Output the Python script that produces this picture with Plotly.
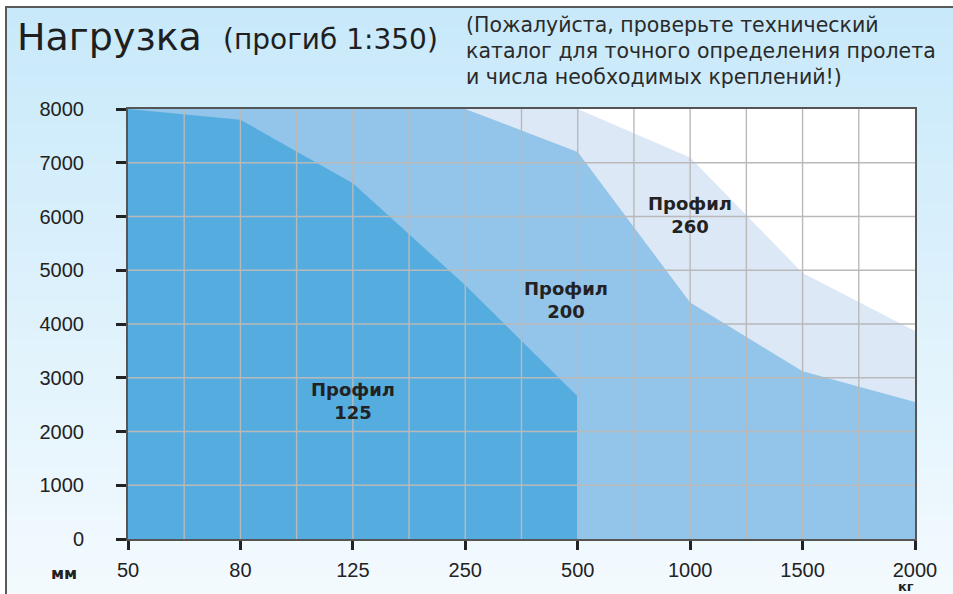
import plotly.graph_objects as go

# ---- data ----
loads_kg = ["50", "80", "125", "250", "500", "1000", "1500", "2000"]
span_ticks = [0, 1000, 2000, 3000, 4000, 5000, 6000, 7000, 8000]
profile_260 = [8000, 8000, 8000, 8000, 8000, 7100, 4950, 3870]
profile_200 = [8000, 8000, 8000, 8000, 7200, 4400, 3120, 2550]
profile_125 = [8000, 7800, 6620, 4720, 2650]
labels = ["Профил<br>125", "Профил<br>200", "Профил<br>260"]
label_x = [2.0, 3.9, 5.0]
label_y = [2570, 4450, 6030]

W, H = 953, 594
L, R, T, B = 128, 38, 109, 55
PW, PH = W - L - R, H - T - B


def xp(px):  # pixel -> paper x
    return (px - L) / PW


def yp(py):  # pixel -> paper y
    return (H - B - py) / PH


xi = list(range(len(loads_kg)))

fig = go.Figure()
fig.add_trace(go.Scatter(x=xi, y=profile_260, mode="lines", line=dict(width=0),
                         fill="tozeroy", fillcolor="#DCE8F6", hoverinfo="skip"))
fig.add_trace(go.Scatter(x=xi, y=profile_200, mode="lines", line=dict(width=0),
                         fill="tozeroy", fillcolor="#93C4E9", hoverinfo="skip"))
fig.add_trace(go.Scatter(x=xi[:len(profile_125)], y=profile_125, mode="lines",
                         line=dict(width=0), fill="tozeroy", fillcolor="#55ADDF",
                         hoverinfo="skip"))

shapes = []
# gradient background bands
n = 60
c0 = (0xC8, 0xE9, 0xFA)
c1 = (0xF3, 0xFA, 0xFE)
top_px, bot_px, left_px = 7, H, 6
for i in range(n):
    t = i / (n - 1)
    c = tuple(round(c0[k] + (c1[k] - c0[k]) * t) for k in range(3))
    y_a = top_px + (bot_px - top_px) * i / n
    y_b = min(top_px + (bot_px - top_px) * (i + 1) / n + 1, bot_px)
    shapes.append(dict(type="rect", xref="paper", yref="paper", layer="below",
                       x0=xp(left_px), x1=xp(W), y0=yp(y_b), y1=yp(y_a),
                       line=dict(width=0), fillcolor="rgb(%d,%d,%d)" % c))
# white plot area
shapes.append(dict(type="rect", xref="x domain", yref="y domain", layer="below",
                   x0=0, x1=1, y0=0, y1=1, line=dict(width=0), fillcolor="white"))
# border lines (top and left)
shapes.append(dict(type="line", xref="paper", yref="paper", x0=xp(left_px - 1), x1=xp(W),
                   y0=yp(top_px), y1=yp(top_px), line=dict(color="#5a5a5a", width=2)))
shapes.append(dict(type="line", xref="paper", yref="paper", x0=xp(left_px), x1=xp(left_px),
                   y0=yp(top_px), y1=yp(H), line=dict(color="#5a5a5a", width=2)))
# grid above fills
grid = dict(color="#B9B9B9", width=1.4)
for k in range(1, 2 * (len(loads_kg) - 1)):
    shapes.append(dict(type="line", xref="x", yref="y domain", layer="above",
                       x0=k / 2, x1=k / 2, y0=0, y1=1, line=grid))
for v in span_ticks[1:-1]:
    shapes.append(dict(type="line", xref="x domain", yref="y", layer="above",
                       x0=0, x1=1, y0=v, y1=v, line=grid))

ann = []
ann.append(dict(text="Нагрузка", xref="paper", yref="paper", x=xp(15), y=yp(37),
                xanchor="left", yanchor="middle", showarrow=False,
                font=dict(family="DejaVu Sans", size=38, color="#1f1f1f")))
ann.append(dict(text="(прогиб 1:350)", xref="paper", yref="paper", x=xp(221), y=yp(40),
                xanchor="left", yanchor="middle", showarrow=False,
                font=dict(family="DejaVu Sans", size=28, color="#1f1f1f")))
note_lines = ["(Пожалуйста, проверьте технический",
              "каталог для точного определения пролета",
              "и числа необходимых креплений!)"]
for j, line in enumerate(note_lines):
    ann.append(dict(text=line, xref="paper", yref="paper", x=xp(466), y=yp(25 + 26 * j),
                    xanchor="left", yanchor="middle", align="left", showarrow=False,
                    borderwidth=0, borderpad=0,
                    font=dict(family="DejaVu Sans", size=20.5, color="#2a2a2a")))
for t, x, y in zip(labels, label_x, label_y):
    ann.append(dict(text="<b>%s</b>" % t, x=x, y=y, xref="x", yref="y",
                    showarrow=False, align="center",
                    font=dict(family="DejaVu Sans", size=18, color="#222")))
ann.append(dict(text="<b>мм</b>", xref="paper", yref="paper", x=xp(64), y=yp(573),
                xanchor="center", yanchor="middle", showarrow=False,
                font=dict(family="DejaVu Sans", size=16, color="#222")))
ann.append(dict(text="<b>кг</b>", xref="paper", yref="paper", x=xp(906), y=yp(586),
                xanchor="center", yanchor="middle", showarrow=False, borderpad=0,
                borderwidth=0, font=dict(family="DejaVu Sans", size=13, color="#222")))

fig.update_layout(
    width=W, height=H, margin=dict(l=L, r=R, t=T, b=B),
    paper_bgcolor="white", plot_bgcolor="white", showlegend=False,
    shapes=shapes, annotations=ann,
    xaxis=dict(range=[0, len(loads_kg) - 1], tickvals=xi, ticktext=loads_kg,
               showgrid=False, zeroline=False, showline=True, mirror=True,
               linecolor="#555", linewidth=2, ticks="outside", ticklen=9,
               tickwidth=2.5, tickcolor="#222", ticklabelstandoff=3,
               tickfont=dict(family="Liberation Sans", size=20, color="#222")),
    yaxis=dict(range=[0, 8000], tickvals=span_ticks, showgrid=False, zeroline=False,
               showline=True, mirror=True, linecolor="#555", linewidth=2,
               ticks="outside", ticklen=10, tickwidth=2.5, tickcolor="#222",
               ticklabelstandoff=28,
               tickfont=dict(family="Liberation Sans", size=20, color="#222")),
)

fig.write_html("out.html", config={"displayModeBar": False},
               post_script="document.body.style.margin='0';document.body.style.overflow='hidden';")
